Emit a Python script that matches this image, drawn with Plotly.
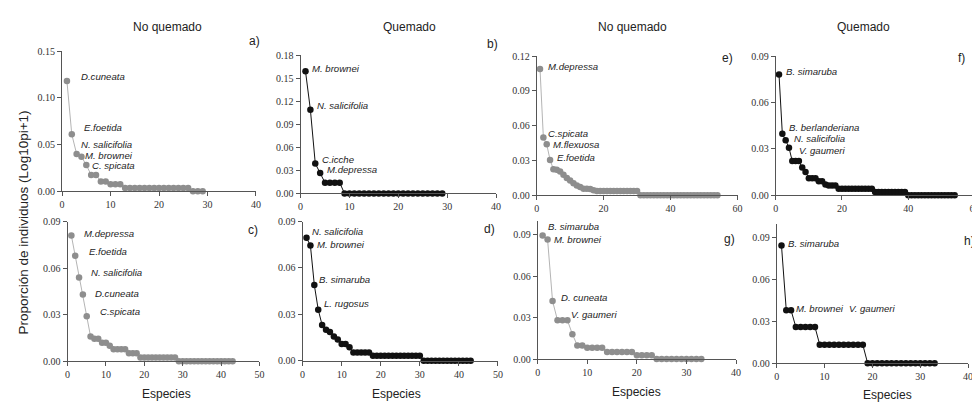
import plotly.graph_objects as go

W, H = 980, 402

# ---------------- data ----------------
a_vals = [0.118, 0.061, 0.040, 0.037, 0.028, 0.0175, 0.0175, 0.0105, 0.0105, 0.0075,
          0.0075, 0.0075, 0.0035, 0.0035, 0.0035, 0.0035, 0.0035, 0.0035, 0.0035, 0.0035,
          0.0035, 0.0035, 0.0035, 0.0035, 0.0035, 0.0035, 0.0, 0.0, 0.0]
b_vals = [0.159, 0.109, 0.039, 0.0265, 0.0139, 0.0139, 0.0139, 0.0139, 0.0, 0.0,
          0.0, 0.0, 0.0, 0.0, 0.0, 0.0, 0.0, 0.0, 0.0, 0.0,
          0.0, 0.0, 0.0, 0.0, 0.0, 0.0, 0.0, 0.0, 0.0]
c_vals = [0.081, 0.068, 0.054, 0.043, 0.029, 0.016, 0.0145, 0.0145, 0.012, 0.012,
          0.010, 0.0077, 0.0077, 0.0077, 0.0077, 0.0052, 0.0052, 0.0052, 0.0025, 0.0025,
          0.0025, 0.0025, 0.0025, 0.0025, 0.0025, 0.0025, 0.0025, 0.0025, 0.0, 0.0,
          0.0, 0.0, 0.0, 0.0, 0.0, 0.0, 0.0, 0.0, 0.0, 0.0,
          0.0, 0.0, 0.0]
d_vals = [0.0795, 0.0745, 0.049, 0.033, 0.023, 0.020, 0.0186, 0.0157, 0.0136, 0.0107,
          0.0107, 0.0086, 0.0052, 0.0052, 0.0052, 0.0052, 0.0052, 0.0031, 0.0031, 0.0031,
          0.0031, 0.0031, 0.0031, 0.0031, 0.0031, 0.0031, 0.0031, 0.0031, 0.0031, 0.0031,
          0.0, 0.0, 0.0, 0.0, 0.0, 0.0, 0.0, 0.0, 0.0, 0.0,
          0.0, 0.0, 0.0]
e_vals = [0.1088, 0.0497, 0.0438, 0.0304, 0.0223, 0.0218, 0.0204, 0.0176, 0.0148, 0.0126,
          0.0103, 0.0084, 0.0070, 0.0056, 0.0056, 0.0053, 0.0042, 0.0036, 0.0036, 0.0036,
          0.0036, 0.0036, 0.0036, 0.0036, 0.0036, 0.0036, 0.0036, 0.0036, 0.0036, 0.0036,
          0.0, 0.0, 0.0, 0.0, 0.0, 0.0, 0.0, 0.0, 0.0, 0.0,
          0.0, 0.0, 0.0, 0.0, 0.0, 0.0, 0.0, 0.0, 0.0, 0.0,
          0.0, 0.0, 0.0, 0.0]
f_vals = [0.078, 0.0397, 0.0355, 0.0307, 0.022, 0.022, 0.022, 0.0178, 0.015, 0.0109,
          0.0109, 0.0109, 0.009, 0.009, 0.0069, 0.0063, 0.0063, 0.0063, 0.0042, 0.0042,
          0.0042, 0.0042, 0.0042, 0.0042, 0.0042, 0.0042, 0.0042, 0.0042, 0.0042, 0.0021,
          0.0021, 0.0021, 0.0021, 0.0021, 0.0021, 0.0021, 0.0021, 0.0021, 0.0021, 0.0,
          0.0, 0.0, 0.0, 0.0, 0.0, 0.0, 0.0, 0.0, 0.0, 0.0,
          0.0, 0.0, 0.0, 0.0]
g_vals = [0.0893, 0.0863, 0.042, 0.028, 0.028, 0.028, 0.018, 0.0098, 0.0098, 0.0082,
          0.0082, 0.0082, 0.0082, 0.0051, 0.0051, 0.0051, 0.0051, 0.0051, 0.0051, 0.0028,
          0.0028, 0.0028, 0.0028, 0.0, 0.0, 0.0, 0.0, 0.0, 0.0, 0.0,
          0.0, 0.0, 0.0]
h_vals = [0.0844, 0.038, 0.038, 0.026, 0.026, 0.026, 0.026, 0.026, 0.0132, 0.0132,
          0.0132, 0.0132, 0.0132, 0.0132, 0.0132, 0.0132, 0.0132, 0.0132, 0.0, 0.0,
          0.0, 0.0, 0.0, 0.0, 0.0, 0.0, 0.0, 0.0, 0.0, 0.0,
          0.0, 0.0, 0.0]

a_species = ["D.cuneata", "E.foetida", "N. salicifolia", "M. brownei", "C. spicata"]
b_species = ["M. brownei", "N. salicifolia", "C.icche", "M.depressa"]
c_species = ["M.depressa", "E.foetida", "N. salicifolia", "D.cuneata", "C.spicata"]
d_species = ["N. salicifolia", "M. brownei", "B. simaruba", "L. rugosus"]
e_species = ["M.depressa", "C.spicata", "M.flexuosa", "E.foetida"]
f_species = ["B. simaruba", "B. berlanderiana", "N. salicifolia", "V. gaumeri"]
g_species = ["B. simaruba", "M. brownei", "D. cuneata", "V. gaumeri"]
h_species = ["B. simaruba", "M. brownei", "V. gaumeri"]

col_titles = ["No quemado", "Quemado", "No quemado", "Quemado"]
y_title = "Proporción de individuos (Log10pi+1)"
x_title = "Especies"

# ---------------- styling / layout ----------------
GRAY_M, GRAY_L = "#8e8e8e", "#b4b4b4"
BLACK = "#111111"
AX = "#555555"
SERIF = "Liberation Serif, Times New Roman, serif"
SANS = "Liberation Sans, Arial, sans-serif"

# panel: (values, species, letter, colour kind, xmax, xdtick, ymax, ytickvals,
#         pixel box [x0, x1, ytop, ybottom], label pixel positions, letter position)
panels = [
    (a_vals, a_species, "a)", "gray", 40, 10, 0.15, [0, 0.05, 0.10, 0.15], [51.5, 247, 38.3, 182.7],
     [(70, 64.3), (72.7, 116.7), (70, 135), (74, 145.5), (81, 156.5)], (246, 28)),
    (b_vals, b_species, "b)", "black", 40, 10, 0.18, [0, 0.03, 0.06, 0.09, 0.12, 0.15, 0.18], [292, 489, 42.3, 185],
     [(302.3, 56), (307.7, 94.3), (312.7, 149.5), (317.7, 160.5)], (485, 31)),
    (e_vals, e_species, "e)", "gray", 60, 20, 0.12, [0, 0.03, 0.06, 0.09, 0.12], [530, 732.5, 43.3, 186.7],
     [(540, 54.3), (540.7, 123.5), (545, 134.5), (549.3, 148.3)], (722, 45)),
    (f_vals, f_species, "f)", "black", 60, 20, 0.09, [0, 0.03, 0.06, 0.09], [771, 971.5, 43.3, 186.7],
     [(780, 59.3), (783.3, 117), (788.3, 128.3), (793.3, 141)], (958, 45)),
    (c_vals, c_species, "c)", "gray", 50, 10, 0.09, [0, 0.03, 0.06, 0.09], [57, 250.5, 214, 358],
     [(72.7, 226), (77.3, 245), (79.3, 266.7), (83.3, 287.7), (88.3, 306.7)], (244, 223)),
    (d_vals, d_species, "d)", "black", 50, 10, 0.09, [0, 0.03, 0.06, 0.09], [294, 491, 214, 357.3],
     [(302.3, 224.5), (307.7, 238), (309.3, 274), (315, 298.7)], (482, 222)),
    (g_vals, g_species, "g)", "gray", 40, 10, 0.10, [0, 0.03, 0.06, 0.09], [531, 731, 213, 355.7],
     [(540, 219), (546, 232), (553.3, 292.7), (564, 309.3)], (724, 232)),
    (h_vals, h_species, "h)", "black", 40, 10, 0.10, [0, 0.03, 0.06, 0.09], [772, 965, 216.3, 360],
     [(782.3, 236.7), (790.5, 303.3), (844, 303.3)], (967, 234)),
]


def px(x):
    return x / W


def py(y):
    return 1 - y / H


fig = go.Figure()
layout = dict(
    width=W, height=H, margin=dict(l=0, r=0, t=0, b=0),
    paper_bgcolor="white", plot_bgcolor="rgba(0,0,0,0)", showlegend=False,
)
annotations = []

for i, (vals, species, letter, kind, xmax, xdt, ymax, ytv, box, lab_pos, let_pos) in enumerate(panels):
    n = i + 1
    xa = "x" if n == 1 else f"x{n}"
    ya = "y" if n == 1 else f"y{n}"
    ranks = list(range(1, len(vals) + 1))
    if kind == "gray":
        mcol, lcol = GRAY_M, GRAY_L
    else:
        mcol, lcol = BLACK, BLACK
    fig.add_trace(go.Scatter(
        x=ranks, y=vals, xaxis=xa, yaxis=ya, mode="lines+markers",
        line=dict(color=lcol, width=1),
        marker=dict(color=mcol, size=6.5, line=dict(width=0)),
        cliponaxis=False, hoverinfo="skip",
    ))
    x0, x1, yt, yb = box
    common = dict(showgrid=False, zeroline=False, showline=True, linecolor=AX, linewidth=1,
                  ticks="outside", ticklen=4, tickwidth=1, tickcolor=AX,
                  tickfont=dict(family=SERIF, size=10, color="#333"))
    layout["xaxis" if n == 1 else f"xaxis{n}"] = dict(
        domain=[px(x0), px(x1)], range=[0, xmax], tickmode="array",
        tickvals=list(range(0, xmax + 1, xdt)), anchor=ya, **common)
    layout["yaxis" if n == 1 else f"yaxis{n}"] = dict(
        domain=[py(yb), py(yt)], range=[0, ymax], tickmode="array",
        tickvals=ytv, ticktext=[f"{v:.2f}" for v in ytv], anchor=xa, **common)
    for name, (lx, ly) in zip(species, lab_pos):
        annotations.append(dict(text=f"<i>{name}</i>", x=px(lx), y=py(ly), xref="paper", yref="paper",
                                xanchor="left", yanchor="middle", showarrow=False, borderpad=0,
                                font=dict(family=SANS, size=9.6, color="#222")))
    if letter == "h)":
        annotations.append(dict(text=letter, x=px(974), y=py(let_pos[1]), xref="paper", yref="paper",
                                xanchor="right", yanchor="middle", showarrow=False,
                                font=dict(family=SANS, size=12, color="#222")))
    else:
        annotations.append(dict(text=letter, x=px(let_pos[0]), y=py(let_pos[1]), xref="paper", yref="paper",
                                xanchor="center", yanchor="middle", showarrow=False,
                                font=dict(family=SANS, size=12, color="#222")))

for t, cx in zip(col_titles, [158, 402, 627, 860]):
    annotations.append(dict(text=t, x=px(cx), y=py(13), xref="paper", yref="paper",
                            xanchor="center", yanchor="middle", showarrow=False,
                            font=dict(family=SANS, size=12, color="#222")))
for cx, cy in [(157, 391.5), (389, 391.5), (631, 390), (884, 392.5)]:
    annotations.append(dict(text=x_title, x=px(cx), y=py(cy), xref="paper", yref="paper",
                            xanchor="center", yanchor="middle", showarrow=False,
                            font=dict(family=SANS, size=12, color="#222")))
annotations.append(dict(text=y_title, x=px(13), y=py(215), xref="paper", yref="paper",
                        xanchor="center", yanchor="middle", showarrow=False, textangle=-90,
                        font=dict(family=SANS, size=13.5, color="#222")))

layout["annotations"] = annotations
fig.update_layout(**layout)
fig.write_html("out.html")
